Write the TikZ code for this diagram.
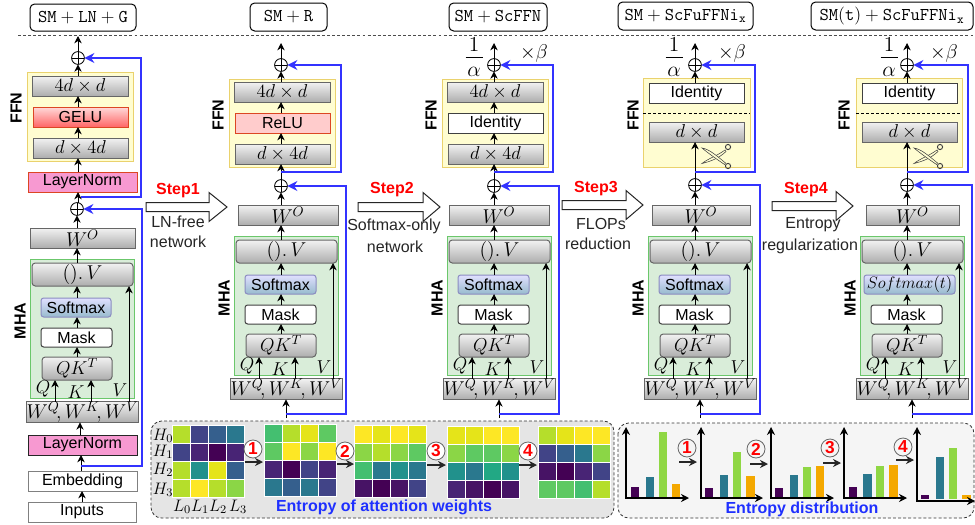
\RequirePackage{fix-cm}
\documentclass[tikz,border=0pt]{standalone}
\usepackage{amsmath}
\usepackage[no-math]{fontspec}
\setmainfont{Liberation Sans}
\usetikzlibrary{arrows.meta,calc,shapes.misc}
\definecolor{vA}{HTML}{440154}\definecolor{vAb}{HTML}{471365}\definecolor{vB}{HTML}{482475}
\definecolor{vC}{HTML}{414487}\definecolor{vD}{HTML}{355f8d}\definecolor{vE}{HTML}{2a788e}
\definecolor{vF}{HTML}{21918c}\definecolor{vG}{HTML}{22a884}\definecolor{vH}{HTML}{44bf70}
\definecolor{vI}{HTML}{5ec962}\definecolor{vJ}{HTML}{8bd646}\definecolor{vK}{HTML}{b5de2b}
\definecolor{vL}{HTML}{e5e419}\definecolor{vM}{HTML}{fde725}
\definecolor{bgreen}{HTML}{8fd744}\definecolor{borange}{HTML}{f4a800}
\definecolor{myblue}{HTML}{3333ff}\definecolor{tblue}{HTML}{1f30ff}
\newcommand{\szt}{\fontsize{12}{14}\selectfont}
\newcommand{\szm}{\fontsize{14}{16}\selectfont}
\newcommand{\szw}{\fontsize{15}{17}\selectfont}
\tikzset{
 basebox/.style={inner sep=0pt,outer sep=0pt,line width=.75pt,rectangle,align=center,text=black,font=\szt},
 gbox/.style={basebox,draw=black!60,top color=black!5,bottom color=black!32},
 rgbox/.style={gbox,rounded corners=2.5pt},
 whbox/.style={basebox,draw=black!75,fill=white},
 rwhbox/.style={whbox,rounded corners=2pt},
 softbox/.style={basebox,draw=blue!30!gray!70,top color=blue!12!white,bottom color=blue!35!cyan!35!gray!60,rounded corners=2pt},
 redbox/.style={basebox,draw=red!45!brown,top color=red!15!white,bottom color=red!60!white},
 relubox/.style={basebox,draw=red!45!brown,fill=red!20!white},
 lnbox/.style={basebox,draw=red!45!brown,fill=magenta!40!white},
 lnboxb/.style={basebox,draw=black!85,fill=magenta!40!white},
 plainbox/.style={basebox,draw=black!50,fill=white},
 ffnbg/.style={basebox,draw=yellow!50!brown!70,fill=yellow!18!white},
 mhabg/.style={basebox,draw=green!45!gray!80,fill=green!35!gray!22},
 titlebox/.style={basebox,draw=black,fill=white,rounded corners=3.5pt,font=\fontsize{13.5}{15}\selectfont},
 arr/.style={-{Stealth[length=5.5pt,width=5.5pt,black]},line width=.75pt,draw=black},
 arrg/.style={arr},
 bluearr/.style={-{Stealth[length=7.5pt,width=7.5pt]},line width=1.1pt,draw=myblue},
 oplusn/.style={circle,draw=black,line width=.6pt,minimum size=9.6pt,inner sep=0pt,outer sep=0pt,
   path picture={\draw[line width=.6pt] (path picture bounding box.north)--(path picture bounding box.south)
   (path picture bounding box.west)--(path picture bounding box.east);}},
 sidelabel/.style={rotate=90,font=\bfseries\szt,text=black},
 steplabel/.style={font=\bfseries\szt,text=red},
 noteLabel/.style={font=\szt,text=black!85},
 mlabel/.style={font=\szm,text=black},
 numc/.style={circle,draw=black!60,fill=white,line width=.6pt,minimum size=13.5pt,inner sep=0pt,font=\bfseries\fontsize{13}{14}\selectfont,text=red},
 panelnote/.style={font=\bfseries\szt,text=tblue},
 panel/.style={draw=black!80,dashed,dash pattern=on 2.2pt off 1.6pt,line width=.6pt,rounded corners=8pt},
 axisline/.style={{Stealth[length=6pt,width=6pt]}-{Stealth[length=6pt,width=6pt]},line width=.85pt,draw=black},
 shortarr/.style={-{Stealth[length=6pt,width=6pt]},line width=.85pt,draw=black!85},
 blockarr/.style={draw=black!85,fill=white,line width=.75pt},
}
% box: [style]{name}{x1}{y1}{x2}{y2}{text}
\newcommand{\bx}[7][gbox]{%
 \node[#1,minimum width={((#5)-(#3))*.75pt},minimum height={((#6)-(#4))*.75pt}] (#2) at ({((#3)+(#5))/2},{((#4)+(#6))/2}) {#7};}
\newcommand{\opl}[3]{\node[oplusn] (#1) at ({#2},{#3}) {};}
\newcommand{\vc}[3]{\coordinate (xr) at ({#1},0); \draw[arr] (xr |- #2.north) -- (xr |- #3.south);}
% MHA: {p}{dx}{dy}{wo x1}{wo x2}{sm x1}{sm x2}{sm text}
\newcommand{\mhacol}[8]{%
 \bx[mhabg]{#1mha}{#2+234}{#3+236}{#2+338}{#3+375}{}
 \bx[gbox]{#1wo}{#4}{#3+205}{#5}{#3+225}{\szw$W^O$}
 \bx[rgbox]{#1v}{#2+236}{#3+240}{#2+337}{#3+263}{\szw$().\,V$}
 \bx[softbox]{#1sm}{#6}{#3+275}{#7}{#3+294}{#8}
 \bx[rwhbox]{#1mask}{#2+245}{#3+305}{#2+316}{#3+324}{Mask}
 \bx[rgbox]{#1qk}{#2+246}{#3+334}{#2+316}{#3+357}{\szm$QK^T$}
 \bx[gbox]{#1w}{#2+232}{#3+379}{#2+341}{#3+399}{\szw$W^Q\!,W^K\!,W^V$}
 \node[mlabel] (#1lq) at ({#2+247},{#3+366}) {$Q$};
 \node[mlabel] (#1lk) at ({#2+280},{#3+369}) {$K$};
 \node[mlabel] (#1lv) at ({#2+324},{#3+367}) {$V$};
 \node[sidelabel] (#1lm) at ({#2+224},{#3+298}) {MHA};
 \vc{#2+281}{#1qk}{#1mask}
 \vc{#2+281}{#1mask}{#1sm}
 \vc{#2+281}{#1sm}{#1v}
 \vc{#2+281}{#1v}{#1wo}
 \vc{#2+259}{#1w}{#1qk}
 \vc{#2+295}{#1w}{#1qk}
 \vc{#2+333}{#1w}{#1v}
}
% top stuff
\newcommand{\frc}[3]{% p, x1/a x, beta x
 \node[font=\fontsize{16}{18}\selectfont] (#1one) at ({#2},45) {$1$};
 \node[font=\fontsize{16}{18}\selectfont] (#1al) at ({#2},72) {$\alpha$};
 \coordinate (#1ba) at ({#2-8.5},57.5); \coordinate (#1bb) at ({#2+8.5},57.5);
 \draw[line width=1.1pt] (#1ba)--(#1bb);
 \node[font=\fontsize{15}{17}\selectfont] (#1beta) at ({#3},53) {$\times\beta$};
}
\newcommand{\blocka}[4]{% x1 xh x2 yc
 \draw[blockarr] ({#1},{#4-4.5}) -- ({#2},{#4-4.5}) -- ({#2},{#4-14.5}) -- ({#3},{#4}) -- ({#2},{#4+14.5}) -- ({#2},{#4+4.5}) -- ({#1},{#4+4.5}) -- cycle;}
\newcommand{\heat}[3]{%
 \foreach \c [count=\i from 0] in {#3} {
   \pgfmathtruncatemacro\cx{mod(\i,4)}
   \pgfmathtruncatemacro\ry{int(\i/4)}
   \fill[\c,draw=white,line width=.6pt] ({#1+\cx*18.1},{#2+\ry*18.1}) rectangle +(18.1,18.1);}}
\newcommand{\barb}[5]{\fill[#5] ({#1},{#3}) rectangle ({#2},{#4});}
\newcommand{\panarr}[4]{\coordinate (#1s) at ({#2},{#4}); \coordinate (#1e) at ({#3},{#4}); \draw[shortarr] (#1s)--(#1e);}
\newcommand{\axes}[4]{\coordinate (#1t) at ({#2},427); \coordinate (#1o) at ({#2},{#3}); \coordinate (#1r) at ({#4},{#3}); \draw[axisline] (#1t)--(#1o)--(#1r);}
\newcommand{\scis}[1]{%
 \begin{scope}[shift={(#1,0)},line width=.4pt,draw=black!75,fill=white]
  \filldraw[fill=yellow!18!white] (702,163.5) .. controls (709,158) and (716,156.5) .. (725,150) -- (726,151.5) .. controls (719,158) and (712,161) .. cycle;
  \filldraw[fill=yellow!18!white] (702,148) .. controls (709,149) and (717,156) .. (725.5,163) -- (724.5,164.5) .. controls (715,158) and (708,153) .. cycle;
  \draw[line width=.7pt] (728,147) circle (2.6);
  \draw[line width=.7pt] (728,166) circle (2.6);
 \end{scope}}
\begin{document}
\begin{tikzpicture}[x=.75pt,y=-.75pt]
\useasboundingbox (0,0) rectangle (975,525);
\fill[white] (0,0) rectangle (975,525);
% header
\coordinate (dl) at (18,35); \coordinate (dr) at (975,35);
\draw[black!70,dash pattern=on 2.2pt off 1.6pt,line width=.6pt] (dl)--(dr);
\bx[titlebox]{t1}{30}{4}{136}{31}{$\mathtt{SM + LN + G}$}
\bx[titlebox]{t2}{250}{3}{327}{31}{$\mathtt{SM + R}$}
\bx[titlebox]{t3}{449}{3}{547}{31}{$\mathtt{SM + ScFFN}$}
\bx[titlebox]{t4}{618}{2}{753}{30}{$\mathtt{SM + ScFuFFNi_x}$}
\bx[titlebox]{t5}{811}{2}{973}{30}{$\mathtt{SM(t) + ScFuFFNi_x}$}

% ---------- column 1
\bx[ffnbg]{aff}{27}{72}{133}{161}{}
\bx[gbox]{a4}{32}{76}{128}{96}{\szm$4d\times d$}
\bx[redbox]{ag}{33}{107}{128}{127}{GELU}
\bx[gbox]{ad}{33}{138}{128}{158}{\szm$d\times 4d$}
\bx[lnbox]{al1}{28}{172}{137}{192}{LayerNorm}
\opl{aop}{78}{58}
\opl{aop2}{77}{209}
\coordinate (atop) at (78,36);
\draw[arr] (aop.north)--(atop);
\node[sidelabel] (affl) at (16,108) {FFN};
\vc{78}{a4}{aop}
\vc{78}{ag}{a4}
\vc{78}{ad}{ag}
\vc{78}{al1}{ad}
\vc{78}{aop2}{al1}
\mhacol{a}{-204}{23}{30}{135}{41}{111}{Softmax}
\vc{77}{awo}{aop2}
\bx[lnboxb]{al2}{28}{435}{137}{455}{LayerNorm}
\bx[plainbox]{aem}{28}{471}{137}{491}{Embedding}
\bx[plainbox]{ain}{28}{502}{136}{522}{Inputs}
\vc{80}{al2}{aw}
\vc{81}{aem}{al2}
\vc{82}{ain}{aem}
\coordinate (atap1) at (81,466); \coordinate (acor1) at (142,209);
\draw[bluearr] (atap1) -| (acor1) -- (aop2.east);
\coordinate (atap2) at (81,197); \coordinate (acor2) at (141,58);
\draw[bluearr] (atap2) -| (acor2) -- (aop.east);

% ---------- column 2
\bx[ffnbg]{bff}{229}{79}{335}{167}{}
\bx[gbox]{b4}{234}{82}{330}{102}{\szm$4d\times d$}
\bx[relubox]{br}{235}{113}{330}{133}{ReLU}
\bx[gbox]{bd}{235}{144}{330}{164}{\szm$d\times 4d$}
\opl{bop}{281}{65}
\opl{bop2}{281}{186}
\coordinate (btop) at (281,43);
\draw[arr] (bop.north)--(btop);
\node[sidelabel] (bffl) at (218,115) {FFN};
\vc{281}{b4}{bop}
\vc{281}{br}{b4}
\vc{281}{bd}{br}
\vc{281}{bop2}{bd}
\mhacol{b}{0}{0}{238}{338}{245}{316}{Softmax}
\vc{281}{bwo}{bop2}
\coordinate (bbot) at (286,418);
\draw[arr] (bbot)--(bbot |- bw.south);
\coordinate (btap1) at (286,414); \coordinate (bcor1) at (346,186);
\draw[bluearr] (btap1) -| (bcor1) -- (bop2.east);
\coordinate (btap2) at (281,172); \coordinate (bcor2) at (341,65);
\draw[bluearr] (btap2) -| (bcor2) -- (bop.east);

% ---------- column 3
\bx[ffnbg]{cff}{442}{79}{548}{167}{}
\bx[gbox]{c4}{447}{82}{543}{102}{\szm$4d\times d$}
\bx[whbox]{cr}{448}{113}{543}{133}{Identity}
\bx[gbox]{cd}{448}{144}{543}{164}{\szm$d\times 4d$}
\opl{cop}{494}{65}
\opl{cop2}{494}{186}
\coordinate (ctop) at (494,43);
\draw[arr] (cop.north)--(ctop);
\node[sidelabel] (cffl) at (431,115) {FFN};
\vc{494}{c4}{cop}
\vc{494}{cr}{c4}
\vc{494}{cd}{cr}
\vc{494}{cop2}{cd}
\mhacol{c}{213}{0}{449}{549}{458}{529}{Softmax}
\vc{494}{cwo}{cop2}
\coordinate (cbot) at (499,418);
\draw[arr] (cbot)--(cbot |- cw.south);
\coordinate (ctap1) at (499,414); \coordinate (ccor1) at (559,186);
\draw[bluearr] (ctap1) -| (ccor1) -- (cop2.east);
\coordinate (ctap2) at (494,172); \coordinate (ccor2) at (553,65);
\draw[bluearr] (ctap2) -| (ccor2) -- (cop.east);
\frc{c}{474}{534}

% ---------- column 4
\bx[ffnbg]{dff}{643}{78}{750}{167}{}
\coordinate (dda) at (643,113); \coordinate (ddb) at (750,113);
\draw[dashed,black,line width=.6pt,dash pattern=on 2.2pt off 1.6pt] (dda)--(ddb);
\bx[whbox]{di}{649}{83}{744}{103}{Identity}
\bx[gbox]{dd}{649}{122}{744}{142}{\szm$d\times d$}
\opl{dop}{695}{65}
\opl{dop2}{695}{185}
\coordinate (dtop) at (695,43);
\draw[arr] (dop.north)--(dtop);
\node[sidelabel] (dffl) at (633,115) {FFN};
\vc{695}{di}{dop}
\vc{695}{dop2}{dd}
\scis{0}
\mhacol{d}{414}{0}{652}{750}{659}{730}{Softmax}
\vc{695}{dwo}{dop2}
\coordinate (dbot) at (700,418);
\draw[arr] (dbot)--(dbot |- dw.south);
\coordinate (dtap1) at (700,414); \coordinate (dcor1) at (760,185);
\draw[bluearr] (dtap1) -| (dcor1) -- (dop2.east);
\coordinate (dtap2) at (695,172); \coordinate (dcor2) at (755,65);
\draw[bluearr] (dtap2) -| (dcor2) -- (dop.east);
\frc{d}{674}{732}

% ---------- column 5
\bx[ffnbg]{eff}{856}{78}{962}{167}{}
\coordinate (eda) at (856,113); \coordinate (edb) at (962,113);
\draw[dashed,black,line width=.6pt,dash pattern=on 2.2pt off 1.6pt] (eda)--(edb);
\bx[whbox]{ei}{862}{83}{957}{103}{Identity}
\bx[gbox]{ed}{862}{122}{957}{142}{\szm$d\times d$}
\opl{eop}{907}{65}
\opl{eop2}{907}{185}
\coordinate (etop) at (907,43);
\draw[arr] (eop.north)--(etop);
\node[sidelabel] (effl) at (844,115) {FFN};
\vc{907}{ei}{eop}
\vc{907}{eop2}{ed}
\scis{212}
\mhacol{e}{626}{0}{866}{959}{864}{955}{\fontsize{12.5}{14}\selectfont$Softmax(t)$}
\vc{907}{ewo}{eop2}
\coordinate (ebot) at (912,418);
\draw[arr] (ebot)--(ebot |- ew.south);
\coordinate (etap1) at (912,414); \coordinate (ecor1) at (972,185);
\draw[bluearr] (etap1) -| (ecor1) -- (eop2.east);
\coordinate (etap2) at (907,172); \coordinate (ecor2) at (968,65);
\draw[bluearr] (etap2) -| (ecor2) -- (eop.east);
\frc{e}{889}{944}

% ---------- steps
\blocka{146}{209}{227}{207}
\node[steplabel] (s1) at (178,191) {Step1};
\node[noteLabel] (s1a) at (178,222) {LN-free};
\node[noteLabel] (s1b) at (178,242) {network};
\blocka{358}{423}{440}{207}
\node[steplabel] (s2) at (392,190) {Step2};
\node[noteLabel] (s2a) at (394,226) {Softmax-only};
\node[noteLabel] (s2b) at (395,247) {network};
\blocka{562}{626}{643}{205}
\node[steplabel] (s3) at (596,189) {Step3};
\node[noteLabel] (s3a) at (601,224) {FLOPs};
\node[noteLabel] (s3b) at (598,244) {reduction};
\blocka{772}{836}{853}{206}
\node[steplabel] (s4) at (806,190) {Step4};
\node[noteLabel] (s4a) at (813,225) {Entropy};
\node[noteLabel] (s4b) at (810,246) {regularization};

% ---------- heat panel
\fill[black!10,rounded corners=8pt] (151,421) rectangle (614,518);
\draw[panel] (151,421) rectangle (614,518);
\heat{172}{425}{vK,vC,vD,vE, vC,vB,vA,vB, vK,vF,vL,vD, vK,vM,vK,vJ}
\heat{264}{424}{vH,vK,vL,vI, vI,vM,vJ,vM, vB,vA,vC,vB, vE,vD,vE,vC}
\heat{354}{425}{vM,vL,vM,vL, vJ,vK,vJ,vI, vH,vE,vF,vE, vAb,vA,vAb,vC}
\heat{447}{426}{vL,vL,vM,vM, vJ,vI,vI,vJ, vF,vE,vG,vF, vB,vAb,vA,vAb}
\heat{538}{426}{vK,vL,vM,vM, vC,vD,vE,vJ, vAb,vA,vB,vC, vI,vI,vH,vK}
\foreach \t/\yy [count=\k] in {H_0/436,H_1/452,H_2/470,H_3/490} {\node[font=\fontsize{12.5}{14}\selectfont] (hl\k) at (163,\yy) {$\t$};}
\foreach \t/\xx [count=\k] in {L_0/182,L_1/200,L_2/218,L_3/238} {\node[font=\fontsize{12.5}{14}\selectfont] (ll\k) at (\xx,507) {$\t$};}
\node[panelnote] (pn1) at (384,507) {Entropy of attention weights};
\panarr{ha}{245}{263}{462}
\panarr{hb}{337}{354}{464}
\panarr{hc}{427}{446}{465}
\panarr{hd}{519}{537}{465}
\node[numc] (hn1) at (253,449) {1};
\node[numc] (hn2) at (345,451) {2};
\node[numc] (hn3) at (436,451) {3};
\node[numc] (hn4) at (528,451) {4};

% ---------- bar panel
\fill[black!4,rounded corners=8pt] (618,423) rectangle (974,518);
\draw[panel] (618,423) rectangle (974,518);
\barb{631}{639}{487}{497}{vA}\barb{646}{654}{477}{497}{vE}\barb{659}{667}{432}{497}{bgreen}\barb{672}{680}{484}{497}{borange}
\barb{705}{713}{488}{497}{vA}\barb{720}{728}{475}{497}{vE}\barb{733}{741}{452}{497}{bgreen}\barb{746}{755}{476}{497}{borange}
\barb{775}{783}{488}{497}{vA}\barb{790}{798}{475}{497}{vE}\barb{803}{811}{467}{497}{bgreen}\barb{816}{824}{466}{497}{borange}
\barb{849}{857}{487}{497}{vA}\barb{863}{872}{474}{497}{vE}\barb{876}{884}{466}{497}{bgreen}\barb{889}{898}{465}{497}{borange}
\barb{921}{929}{495}{499}{vA}\barb{936}{944}{457}{499}{vE}\barb{949}{957}{448}{499}{bgreen}\barb{962}{971}{495}{499}{borange}
\axes{x1}{626}{498}{689}
\axes{x2}{701}{498}{763}
\axes{x3}{771}{498}{834}
\axes{x4}{844}{498}{907}
\axes{x5}{917}{501}{975}
\panarr{ba}{679}{697}{462}
\panarr{bb}{750}{768}{464}
\panarr{bc}{823}{841}{463}
\panarr{bd}{896}{914}{460}
\node[numc,fill=none] (bn1) at (687,448) {1};
\node[numc,fill=none] (bn2) at (756,449) {2};
\node[numc,fill=none] (bn3) at (830,448) {3};
\node[numc,fill=none] (bn4) at (903,447) {4};
\node[panelnote] (pn2) at (802,509) {Entropy distribution};
\end{tikzpicture}
\end{document}
